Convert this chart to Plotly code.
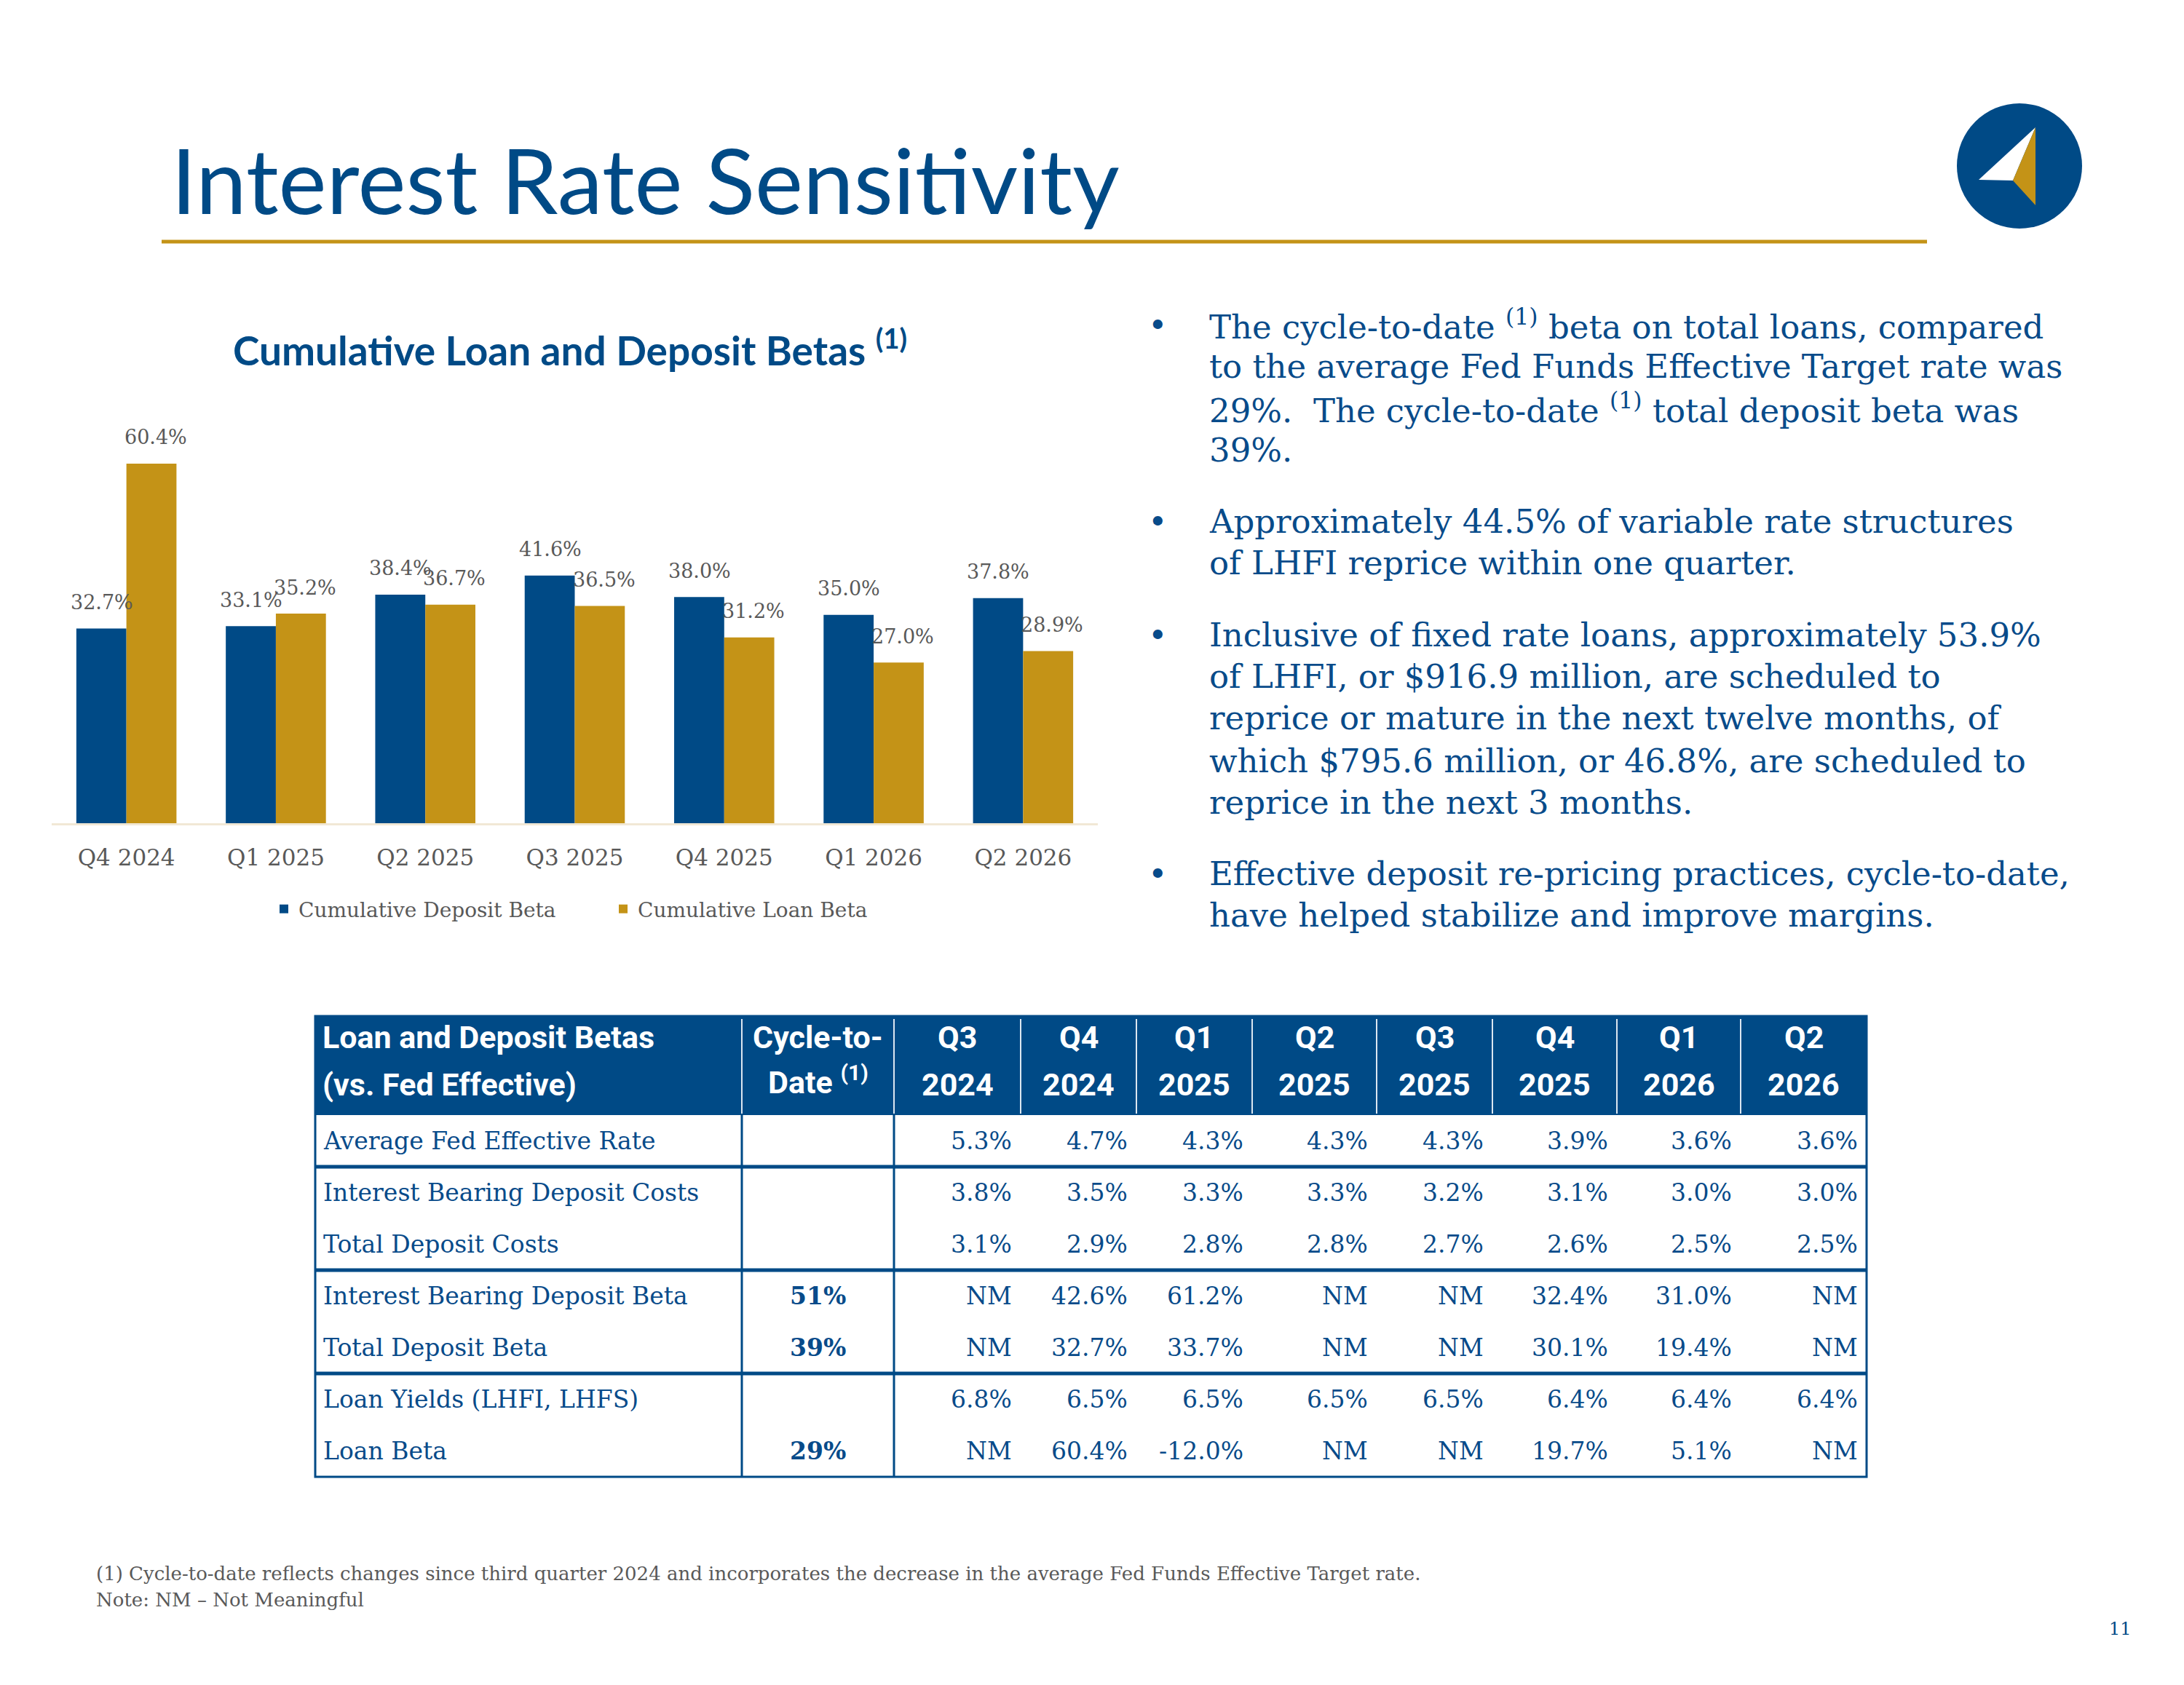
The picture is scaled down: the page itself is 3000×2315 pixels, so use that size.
import plotly.graph_objects as go

W, H = 3000, 2315


def px(x):
    return x / W


def py(y):
    return 1 - y / H


BLUE = "#004A86"
GOLD = "#C49317"
GRAY = "#595959"
TXT_BLUE = "#084B8A"
SERIF = "DejaVu Serif"

# ---------------- data ----------------
quarters = ["Q4 2024", "Q1 2025", "Q2 2025", "Q3 2025", "Q4 2025", "Q1 2026", "Q2 2026"]
deposit_beta = [32.7, 33.1, 38.4, 41.6, 38.0, 35.0, 37.8]
loan_beta = [60.4, 35.2, 36.7, 36.5, 31.2, 27.0, 28.9]

table_quarter_top = ["Q3", "Q4", "Q1", "Q2", "Q3", "Q4", "Q1", "Q2"]
table_quarter_year = ["2024", "2024", "2025", "2025", "2025", "2025", "2026", "2026"]
row_labels = [
    "Average Fed Effective Rate",
    "Interest Bearing Deposit Costs",
    "Total Deposit Costs",
    "Interest Bearing Deposit Beta",
    "Total Deposit Beta",
    "Loan Yields (LHFI, LHFS)",
    "Loan Beta",
]
cycle_to_date = [None, None, None, 51, 39, None, 29]
avg_fed_rate = [5.3, 4.7, 4.3, 4.3, 4.3, 3.9, 3.6, 3.6]
ib_deposit_costs = [3.8, 3.5, 3.3, 3.3, 3.2, 3.1, 3.0, 3.0]
total_deposit_costs = [3.1, 2.9, 2.8, 2.8, 2.7, 2.6, 2.5, 2.5]
ib_deposit_beta = [None, 42.6, 61.2, None, None, 32.4, 31.0, None]
total_deposit_beta = [None, 32.7, 33.7, None, None, 30.1, 19.4, None]
loan_yields = [6.8, 6.5, 6.5, 6.5, 6.5, 6.4, 6.4, 6.4]
loan_beta_tbl = [None, 60.4, -12.0, None, None, 19.7, 5.1, None]
table_rows = [avg_fed_rate, ib_deposit_costs, total_deposit_costs, ib_deposit_beta,
              total_deposit_beta, loan_yields, loan_beta_tbl]

bullets = [
    ["The cycle-to-date <sup>(1)</sup> beta on total loans, compared",
     "to the average Fed Funds Effective Target rate was",
     "29%.\u00a0 The cycle-to-date <sup>(1)</sup> total deposit beta was",
     "39%."],
    ["Approximately 44.5% of variable rate structures",
     "of LHFI reprice within one quarter."],
    ["Inclusive of fixed rate loans, approximately 53.9%",
     "of LHFI, or $916.9 million, are scheduled to",
     "reprice or mature in the next twelve months, of",
     "which $795.6 million, or 46.8%, are scheduled to",
     "reprice in the next 3 months."],
    ["Effective deposit re-pricing practices, cycle-to-date,",
     "have helped stabilize and improve margins."],
]
footnotes = [
    "(1) Cycle-to-date reflects changes since third quarter 2024 and incorporates the decrease in the average Fed Funds Effective Target rate.",
    "Note: NM \u2013 Not Meaningful",
]

# ---------------- figure ----------------
fig = go.Figure()
fig.add_trace(go.Bar(x=quarters, y=deposit_beta, name="Cumulative Deposit Beta",
                     marker=dict(color=BLUE, line=dict(width=0))))
fig.add_trace(go.Bar(x=quarters, y=loan_beta, name="Cumulative Loan Beta",
                     marker=dict(color=GOLD, line=dict(width=0))))

annotations = []
shapes = []

# bar value labels
for q, v in zip(quarters, deposit_beta):
    annotations.append(dict(x=q, y=v, xref="x", yref="y", text=f"{v:.1f}%", showarrow=False,
                            xshift=-34, yshift=36, yanchor="middle",
                            font=dict(family=SERIF, size=27, color=GRAY)))
for q, v in zip(quarters, loan_beta):
    annotations.append(dict(x=q, y=v, xref="x", yref="y", text=f"{v:.1f}%", showarrow=False,
                            xshift=40, yshift=36, yanchor="middle",
                            font=dict(family=SERIF, size=27, color=GRAY)))

# page title
annotations.append(dict(x=px(233), y=py(246), xref="paper", yref="paper", xanchor="left",
                        yanchor="middle", showarrow=False, text="Interest Rate Sensitivity",
                        font=dict(family="Lato", size=125, color=BLUE)))
shapes.append(dict(type="line", xref="paper", yref="paper", x0=px(222), x1=px(2647),
                   y0=py(332), y1=py(332), line=dict(color=GOLD, width=5)))

# logo
shapes.append(dict(type="circle", xref="paper", yref="paper", x0=px(2688), x1=px(2860),
                   y0=py(142), y1=py(314), fillcolor=BLUE, line=dict(width=0)))


def path(pts):
    return "M " + " L ".join(f"{px(a):.5f},{py(b):.5f}" for a, b in pts) + " Z"


shapes.append(dict(type="path", xref="paper", yref="paper",
                   path=path([(2796, 175), (2718, 247), (2765, 248)]),
                   fillcolor="white", line=dict(width=0)))
shapes.append(dict(type="path", xref="paper", yref="paper",
                   path=path([(2796, 175), (2765, 248), (2796, 282)]),
                   fillcolor=GOLD, line=dict(width=0)))

# chart title
annotations.append(dict(x=px(318), y=py(477), xref="paper", yref="paper", xanchor="left",
                        yanchor="middle", showarrow=False,
                        text="<b>Cumulative Loan and Deposit Betas <sup>(1)</sup></b>",
                        font=dict(family="Lato", size=55, color=BLUE)))

# bullets
BULLET_SIZE = 45
bullet_line_y = [[446, 503, 561, 618], [716, 773], [872, 930, 987, 1045, 1102], [1200, 1257]]
for lines, ys in zip(bullets, bullet_line_y):
    annotations.append(dict(x=px(1590), y=py(ys[0]), xref="paper", yref="paper", xanchor="center",
                            yanchor="middle", showarrow=False, text="\u2022",
                            font=dict(family=SERIF, size=BULLET_SIZE, color=TXT_BLUE)))
    for t, y in zip(lines, ys):
        annotations.append(dict(x=px(1659), y=py(y), xref="paper", yref="paper", xanchor="left",
                                yanchor="middle", showarrow=False, text=t,
                                font=dict(family=SERIF, size=BULLET_SIZE, color=TXT_BLUE)))

# ---------------- table ----------------
col_edges = [433, 1019, 1228, 1402, 1561, 1720, 1891, 2050, 2221, 2391, 2564]
t_top, t_head_bot = 1396, 1532
row_h = 71
row_y = [t_head_bot + row_h * (i + 0.5) for i in range(len(row_labels))]
t_bot = t_head_bot + row_h * len(row_labels)
group_lines = [t_head_bot + row_h * k for k in (1, 3, 5)]

shapes.append(dict(type="rect", xref="paper", yref="paper", x0=px(col_edges[0]), x1=px(col_edges[-1]),
                   y0=py(t_top), y1=py(t_head_bot), fillcolor=BLUE, line=dict(width=0)))
for xe in col_edges[1:-1]:
    shapes.append(dict(type="line", xref="paper", yref="paper", x0=px(xe), x1=px(xe),
                       y0=py(t_top + 4), y1=py(t_head_bot - 2), line=dict(color="#DCE6F0", width=2)))
for xe in col_edges[1:3]:
    shapes.append(dict(type="line", xref="paper", yref="paper", x0=px(xe), x1=px(xe),
                       y0=py(t_head_bot), y1=py(t_bot), line=dict(color=BLUE, width=3)))
for gy in group_lines:
    shapes.append(dict(type="line", xref="paper", yref="paper", x0=px(col_edges[0]), x1=px(col_edges[-1]),
                       y0=py(gy), y1=py(gy), line=dict(color=BLUE, width=5)))
shapes.append(dict(type="rect", xref="paper", yref="paper", x0=px(col_edges[0]), x1=px(col_edges[-1]),
                   y0=py(t_top), y1=py(t_bot), fillcolor="rgba(0,0,0,0)", line=dict(color=BLUE, width=3)))

HEAD_FONT = dict(family="Roboto", size=43, color="white")
hy1, hy2 = 1425, 1490
annotations.append(dict(x=px(441), y=py(hy1), xref="paper", yref="paper", xanchor="left", yanchor="middle",
                        showarrow=False, text="<b>Loan and Deposit Betas</b>", font=HEAD_FONT))
annotations.append(dict(x=px(441), y=py(hy2), xref="paper", yref="paper", xanchor="left", yanchor="middle",
                        showarrow=False, text="<b>(vs. Fed Effective)</b>", font=HEAD_FONT))
cx = (col_edges[1] + col_edges[2]) / 2
annotations.append(dict(x=px(cx), y=py(hy1), xref="paper", yref="paper", xanchor="center", yanchor="middle",
                        showarrow=False, text="<b>Cycle-to-</b>", font=HEAD_FONT))
annotations.append(dict(x=px(cx), y=py(hy2 - 6), xref="paper", yref="paper", xanchor="center", yanchor="middle",
                        showarrow=False, text="<b>Date <sup>(1)</sup></b>", font=HEAD_FONT))
for i, (qt, yr) in enumerate(zip(table_quarter_top, table_quarter_year)):
    c = (col_edges[i + 2] + col_edges[i + 3]) / 2
    annotations.append(dict(x=px(c), y=py(hy1), xref="paper", yref="paper", xanchor="center", yanchor="middle",
                            showarrow=False, text=f"<b>{qt}</b>", font=HEAD_FONT))
    annotations.append(dict(x=px(c), y=py(hy2), xref="paper", yref="paper", xanchor="center", yanchor="middle",
                            showarrow=False, text=f"<b>{yr}</b>", font=HEAD_FONT))

CELL_FONT = dict(family=SERIF, size=33, color=TXT_BLUE)
for r, (lab, ctd, vals) in enumerate(zip(row_labels, cycle_to_date, table_rows)):
    y = row_y[r]
    annotations.append(dict(x=px(442), y=py(y), xref="paper", yref="paper", xanchor="left", yanchor="middle",
                            showarrow=False, text=lab, font=CELL_FONT))
    if ctd is not None:
        annotations.append(dict(x=px(cx), y=py(y), xref="paper", yref="paper", xanchor="center",
                                yanchor="middle", showarrow=False, text=f"<b>{ctd}%</b>", font=CELL_FONT))
    for i, v in enumerate(vals):
        txt = "NM" if v is None else f"{v:.1f}%"
        annotations.append(dict(x=px(col_edges[i + 3] - 10), y=py(y), xref="paper", yref="paper",
                                xanchor="right", yanchor="middle", showarrow=False, text=txt, font=CELL_FONT))

# footnotes & page number
for t, y in zip(footnotes, [2162, 2198]):
    annotations.append(dict(x=px(130), y=py(y), xref="paper", yref="paper", xanchor="left", yanchor="middle",
                            showarrow=False, text=t, font=dict(family=SERIF, size=26, color=GRAY)))
annotations.append(dict(x=px(2912), y=py(2238), xref="paper", yref="paper", xanchor="center", yanchor="middle",
                        showarrow=False, text="11", font=dict(family=SERIF, size=24, color=BLUE)))

fig.update_layout(
    width=W, height=H,
    margin=dict(l=0, r=0, t=0, b=0),
    paper_bgcolor="white", plot_bgcolor="white",
    barmode="group", bargap=0.33, bargroupgap=0,
    xaxis=dict(domain=[px(71), px(1508)], showline=True, linecolor="#F1E8D5", linewidth=3,
               ticks="", showgrid=False, zeroline=False, ticklabelstandoff=18,
               tickfont=dict(family=SERIF, size=31, color=GRAY), anchor="y", fixedrange=True),
    yaxis=dict(domain=[py(1131), py(1131 - 70 * 8.18)], range=[0, 70], visible=False, fixedrange=True),
    showlegend=True,
    legend=dict(orientation="h", x=px(370), xanchor="left", y=py(1249), yanchor="middle",
                entrywidth=421, entrywidthmode="pixels", traceorder="normal",
                font=dict(family=SERIF, size=28, color=GRAY), bgcolor="rgba(0,0,0,0)"),
    annotations=annotations,
    shapes=shapes,
)

fig.write_html("out.html")
